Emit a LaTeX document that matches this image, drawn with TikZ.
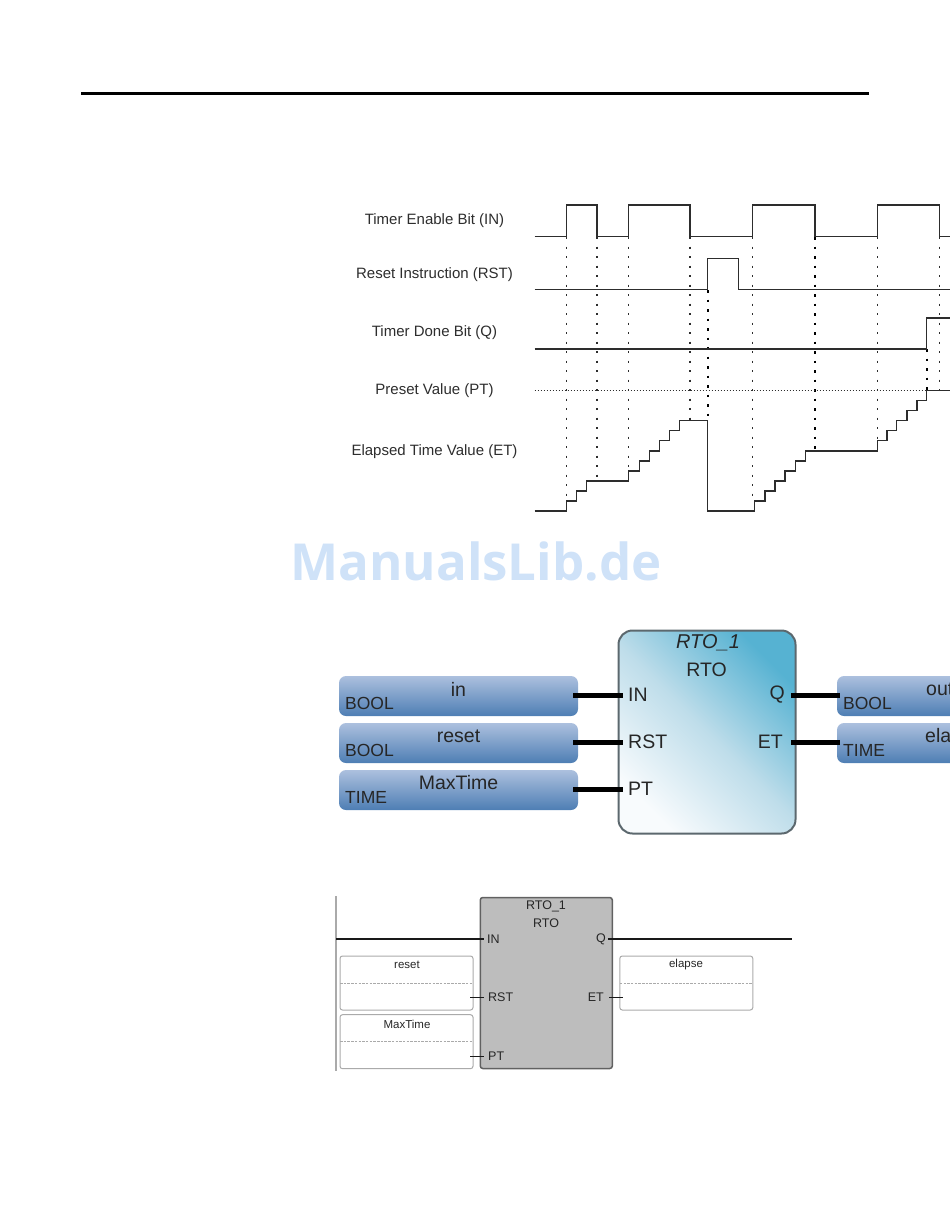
\documentclass[tikz,border=0pt]{standalone}
\usepackage{fontspec}
\setmainfont{Liberation Sans}
\newfontfamily\markfont{Open Sans}
\usetikzlibrary{positioning}
\definecolor{cInk}{RGB}{45,45,45}
\definecolor{cMark}{RGB}{207,226,248}
\definecolor{cVarTop}{RGB}{172,192,222}
\definecolor{cVarBot}{RGB}{78,126,180}
\definecolor{cFbTop}{RGB}{86,178,210}
\definecolor{cFbMid}{RGB}{190,221,234}
\definecolor{cFbBot}{RGB}{248,251,253}
\definecolor{cFbEdge}{RGB}{92,104,110}
\definecolor{cGrey}{RGB}{189,189,189}
\definecolor{cEdge}{RGB}{170,170,170}

\begin{document}
\begin{tikzpicture}[x=1pt, y=-1pt,
signal/.style={draw=cInk, line width=1.3pt, line join=miter},
sync/.style={draw=cInk, line width=1.1pt, dash pattern=on 2pt off 7.5pt},
syncbold/.style={draw=black, line width=1.7pt, dash pattern=on 2.5pt off 7pt},
preset/.style={draw=cInk, line width=0.8pt, dash pattern=on 1.2pt off 1.8pt},
tlabel/.style={inner sep=0pt, font=\fontsize{15}{17}\selectfont, text=cInk},
var/.style={shading=axis, top color=cVarTop, bottom color=cVarBot, minimum height=40pt, rounded corners=7pt, inner sep=0pt, outer sep=0pt},
varname/.style={inner sep=0pt, font=\fontsize{19.5}{22}\selectfont, text=black!85},
vartype/.style={inner sep=0pt, anchor=west, font=\fontsize{17.5}{20}\selectfont, text=black!85},
fb/.style={draw=cFbEdge, line width=2pt, rounded corners=14pt, minimum width=177pt, minimum height=203pt, inner sep=0pt, outer sep=0pt, shading=axis, top color=cFbTop, bottom color=cFbBot, middle color=cFbMid, shading angle=-45},
pin/.style={inner sep=0pt, font=\fontsize{19.5}{22}\selectfont, text=black!85},
wire/.style={draw=black, line width=5pt},
ldbox/.style={draw=black!62, fill=cGrey, line width=1.5pt, rounded corners=2.5pt, minimum width=132pt, minimum height=171pt, inner sep=0pt, outer sep=0pt},
ldvar/.style={draw=cEdge, line width=1pt, rounded corners=2.5pt, minimum width=133pt, minimum height=54pt, inner sep=0pt, outer sep=0pt},
ldpin/.style={inner sep=0pt, font=\fontsize{12.5}{14}\selectfont, text=black!85},
ldname/.style={inner sep=0pt, font=\fontsize{11.5}{14}\selectfont, text=black!85},
ldwire/.style={draw=black!90, line width=1.6pt},
ldsplit/.style={draw=cEdge, line width=1pt, dash pattern=on 2.5pt off 1.2pt}]

\useasboundingbox (0,0) rectangle (950,1229);

\coordinate (ruleL) at (81,93.5);
\coordinate (ruleR) at (869,93.5);
\draw[black, line width=3.5pt] (ruleL) -- (ruleR);

% timing chart
\node[tlabel] (lblIN) at (434.5,221) {Timer Enable Bit (IN)};
\node[tlabel] (lblRST) at (434.5,274.5) {Reset Instruction (RST)};
\node[tlabel] (lblQ) at (434.5,333) {Timer Done Bit (Q)};
\node[tlabel] (lblPT) at (434.5,391) {Preset Value (PT)};
\node[tlabel] (lblET) at (434.5,451.5) {Elapsed Time Value (ET)};

\foreach \x/\yend in {566.5/501, 597/481, 628.3/471, 690/421, 752.5/501, 877.3/441, 939.5/391} {
	\draw[sync] (\x,237) -- (\x,\yend);
}
\draw[syncbold] (815,237) -- (815,451);
\draw[syncbold] (707.7,290) -- (707.7,421);
\draw[syncbold] (926.8,349) -- (926.8,391);

\draw[preset] (534.5,390.7) -- (926.8,390.7);

\draw[signal] (534.5,236.7) -- (566.5,236.7) -- (566.5,205) -- (597,205) -- (597,236.7) -- (628.3,236.7) -- (628.3,205) -- (690,205) -- (690,236.7) -- (752.5,236.7) -- (752.5,205) -- (815,205) -- (815,236.7) -- (877.3,236.7) -- (877.3,205) -- (939.5,205) -- (939.5,236.7) -- (950,236.7);
\draw[signal] (534.5,289.7) -- (707.7,289.7) -- (707.7,258.3) -- (738.8,258.3) -- (738.8,289.7) -- (950,289.7);
\draw[signal] (534.5,349) -- (926.8,349) -- (926.8,318) -- (950,318);
\draw[signal] (534.5,511) -- (566.5,511) -- (566.5,501) -- (576.6,501) -- (576.6,491) -- (586.7,491) -- (586.7,481) -- (628.3,481) -- (628.3,471) -- (639.2,471) -- (639.2,461) -- (649.3,461) -- (649.3,451) -- (659.5,451) -- (659.5,440.7) -- (669.6,440.7) -- (669.6,430.7) -- (679.7,430.7) -- (679.7,420.7) -- (707.7,420.7) -- (707.7,511) -- (754.8,511) -- (754.8,501) -- (765,501) -- (765,491) -- (775,491) -- (775,481) -- (785,481) -- (785,471) -- (795.3,471) -- (795.3,461) -- (805.4,461) -- (805.4,451) -- (877.3,451) -- (877.3,440.7) -- (887,440.7) -- (887,430.7) -- (896.8,430.7) -- (896.8,420.7) -- (907,420.7) -- (907,410.7) -- (917,410.7) -- (917,400.7) -- (926.8,400.7) -- (926.8,390.7) -- (950,390.7);

\node[inner sep=0pt, font=\markfont\fontsize{51}{60}\selectfont\bfseries, text=cMark] (mark) at (476,561) {ManualsLib.de};

% block with typed variables
\node[fb] (rto) at (707,732) {};
\node[var, minimum width=239pt] (in) at (458.5,696) {};
\node[var, minimum width=239pt, below = 7pt of in] (reset) {};
\node[var, minimum width=239pt, below = 7pt of reset] (maxtime) {};
\node[var, minimum width=125pt] (out) at (899.5,696) {};
\node[var, minimum width=125pt, below = 7pt of out] (elapse) {};

\node[varname] (inN) at ([yshift=7pt]in.center) {in};
\node[varname] (resetN) at ([yshift=7pt]reset.center) {reset};
\node[varname] (maxtimeN) at ([yshift=7pt]maxtime.center) {MaxTime};
\node[varname, anchor=west] (outN) at (926,689) {out};
\node[varname, anchor=west] (elapseN) at (925,736) {ela};

\foreach \v/\t in {in/BOOL, reset/BOOL, maxtime/TIME} {
	\node[vartype] (\v T) at ([xshift=6pt,yshift=-7pt]\v.west) {\t};
}
\foreach \v/\t in {out/BOOL, elapse/TIME} {
	\node[vartype] (\v T) at ([xshift=6pt,yshift=-7pt]\v.west) {\t};
}

\node[pin, font=\fontsize{20}{22}\selectfont\itshape] (rtoI) at (708,643) {RTO\_1};
\node[pin] (rtoT) at (706.5,670) {RTO};
\node[pin, anchor=west] (pIN) at (628,695) {IN};
\node[pin, anchor=west] (pRST) at (628,742) {RST};
\node[pin, anchor=west] (pPT) at (628,789) {PT};
\node[pin, anchor=east] (pQ) at (785,695) {Q};
\node[pin, anchor=east] (pET) at (783,742) {ET};

\foreach \a/\b in {in/pIN, reset/pRST, maxtime/pPT} {
	\draw[wire, shorten <=-5pt, shorten >=5pt] (\a.east |- \b.west) -- (\b.west);
}
\draw[wire, shorten <=6pt, shorten >=-3pt] (pQ.east) -- (out.west |- pQ.east);
\draw[wire, shorten <=8pt, shorten >=-3pt] (pET.east) -- (elapse.west |- pET.east);

% ladder rung
\coordinate (railT) at (336,896);
\coordinate (railB) at (336,1071);
\draw[draw=cEdge, line width=1.4pt] (railT) -- (railB);

\node[ldbox] (ldrto) at (546.3,983) {};
\node[ldpin] (ldI) at (546,906) {RTO\_1};
\node[ldpin] (ldT) at (546,923.5) {RTO};
\node[ldvar] (ldreset) at (406.5,983) {};
\node[ldvar, below = 4.7pt of ldreset] (ldmax) {};
\node[ldvar] (ldelapse) at (686.3,983) {};
\node[ldname] (ldresetN) at (407,965) {reset};
\node[ldname] (ldmaxN) at (407,1024) {MaxTime};
\node[ldname] (ldelapseN) at (686,965) {elapse};

\foreach \b in {ldreset, ldmax, ldelapse} {
	\draw[ldsplit] (\b.west) -- (\b.east);
}

\node[ldpin, anchor=west] (qIN) at (487,939) {IN};
\node[ldpin, anchor=west] (qRST) at (488,997.5) {RST};
\node[ldpin, anchor=west] (qPT) at (488,1056.5) {PT};
\node[ldpin, anchor=east] (qQ) at (606,939) {Q};
\node[ldpin, anchor=east] (qET) at (604,997.5) {ET};
\coordinate (rungR) at (792,939);
\coordinate (rungL) at (336,939);

\draw[ldwire, shorten >=3pt] (rungL) -- (qIN.west);
\draw[ldwire, shorten <=2pt] (qQ.east) -- (rungR);
\draw[ldwire, shorten <=-3pt, shorten >=4pt] (ldreset.east |- qRST.west) -- (qRST.west);
\draw[ldwire, shorten <=-3pt, shorten >=4pt] (ldmax.east |- qPT.west) -- (qPT.west);
\draw[ldwire, shorten <=5pt, shorten >=-3pt] (qET.east) -- (ldelapse.west |- qET.east);
\end{tikzpicture}
\end{document}
